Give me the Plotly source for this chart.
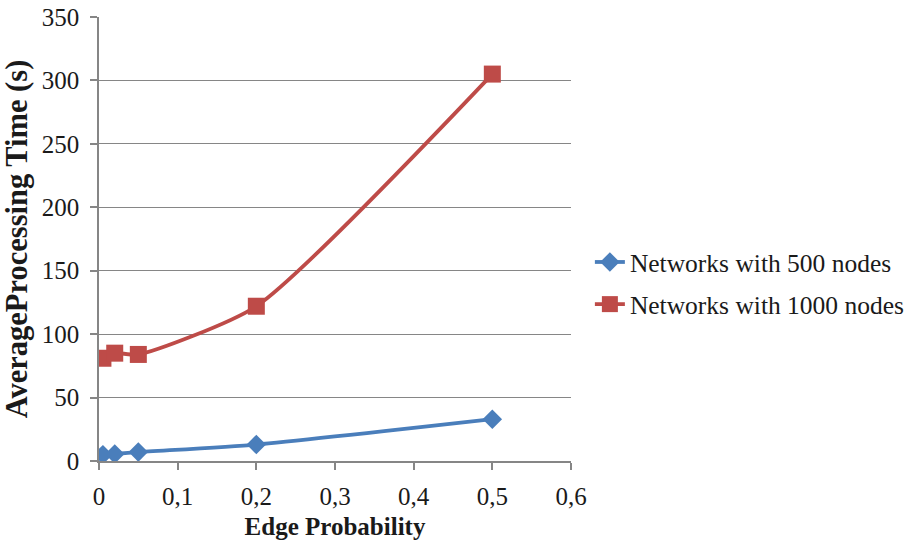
import plotly.graph_objects as go

# Edge probability values tested
edge_prob = [0.005, 0.02, 0.05, 0.2, 0.5]

# Average processing time (s) per network size
time_500 = [5, 5.5, 7, 13, 33]
time_1000 = [81, 85, 84, 122, 305]

series_names = ["Networks with 500 nodes", "Networks with 1000 nodes"]

x_ticks = [0, 0.1, 0.2, 0.3, 0.4, 0.5, 0.6]
x_tick_labels = ["0", "0,1", "0,2", "0,3", "0,4", "0,5", "0,6"]
y_ticks = [0, 50, 100, 150, 200, 250, 300, 350]

FONT = "Liberation Serif"
GRID = "#868686"
TEXT = "#1a1a1a"

fig = go.Figure()
fig.add_trace(go.Scatter(
    x=edge_prob, y=time_500, name=series_names[0], mode="lines+markers",
    line=dict(color="#4A7EBB", width=3.8, shape="spline", smoothing=0.6),
    marker=dict(symbol="diamond", size=15, color="#4A7EBB"),
    legendgroup="a",
))
fig.add_trace(go.Scatter(
    x=edge_prob, y=time_1000, name=series_names[1], mode="lines+markers",
    line=dict(color="#BE4B48", width=3.8, shape="spline", smoothing=0.6),
    marker=dict(symbol="square", size=17, color="#BE4B48"),
    legendgroup="b",
))

fig.update_layout(
    width=912, height=544,
    margin=dict(l=99, r=341, t=17, b=83, autoexpand=False),
    paper_bgcolor="white", plot_bgcolor="white",
    separators=",.",
    font=dict(family=FONT, size=25, color=TEXT),
    showlegend=True,
    legend=dict(
        x=1.04, y=0.40, xanchor="left", yanchor="middle",
        font=dict(family=FONT, size=25.5, color=TEXT),
        tracegroupgap=6, bgcolor="rgba(0,0,0,0)",
    ),
    xaxis=dict(
        range=[0, 0.6], tickvals=x_ticks, ticktext=x_tick_labels,
        showgrid=False, zeroline=False, automargin=False,
        showline=True, linecolor=GRID, linewidth=1.5,
        ticks="outside", ticklen=7, tickcolor=GRID, tickwidth=1.5,
        ticklabelstandoff=5,
        tickfont=dict(family=FONT, size=25, color=TEXT),
        title=dict(text="<b>Edge Probability</b>", standoff=9,
                   font=dict(family=FONT, size=25, color=TEXT)),
    ),
    yaxis=dict(
        range=[0, 350], tickvals=y_ticks, automargin=False,
        showgrid=True, gridcolor=GRID, gridwidth=1.2, zeroline=False,
        showline=True, linecolor=GRID, linewidth=1.5,
        ticks="outside", ticklen=7, tickcolor=GRID, tickwidth=1.5,
        ticklabelstandoff=6,
        tickfont=dict(family=FONT, size=25, color=TEXT),
        title=dict(text="<b>AverageProcessing Time (s)</b>", standoff=8,
                   font=dict(family=FONT, size=30.5, color=TEXT)),
    ),
)

fig.write_html("out.html")
